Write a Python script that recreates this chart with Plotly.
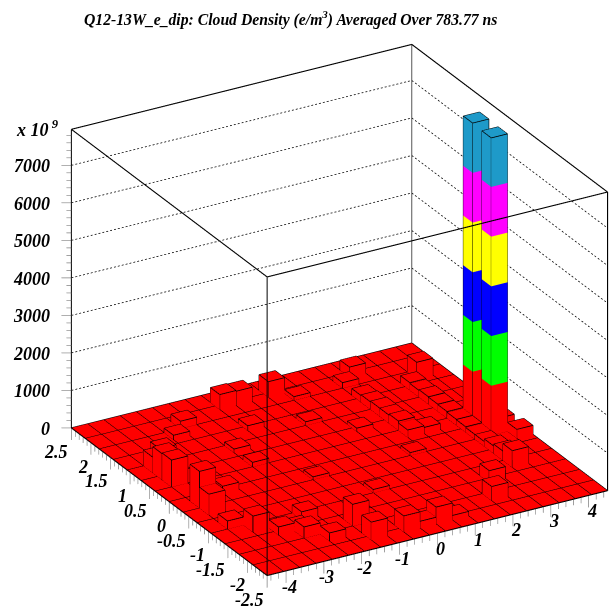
import math
import plotly.graph_objects as go

TITLE = "Q12-13W_e_dip: Cloud Density (e/m<sup>3</sup>) Averaged Over 783.77 ns"
X_MIN, X_MAX, Y_MIN, Y_MAX, Z_MAX = -4.5, 4.5, -2.5, 2.5, 7960
N_BINS = 21
FLOOR_ROWS = 14
BAND = 1325
BAND_COLORS = ["#ff0000", "#00ff00", "#0000ff", "#ffff00", "#ff00ff", "#1e9ac9"]

bar_col = [19, 19, 2, 1, 1, 1, 1, 1, 1, 2, 11, 8, 9, 5, 8, 4, 5, 3, 7, 4, 7, 9, 11, 15, 16, 18, 20, 20, 19, 16,
           15, 15, 15, 16, 18, 18, 4, 5, 12, 10, 3, 6, 6, 11, 13, 10, 8, 14, 12,
           15, 15, 15, 15, 18, 18, 18, 18, 18, 18, 18, 18, 18]
bar_row = [11, 9, 15, 14, 13, 12, 9, 8, 6, 5, 19, 19, 19, 18, 16, 17, 2, 4, 1, 4, 3, 1, 1, 2, 4, 5, 8, 10, 17, 19,
           16, 14, 12, 11, 14, 12, 3, 5, 1, 1, 10, 12, 14, 15, 13, 6, 9, 9, 18,
           18, 15, 13, 11, 16, 15, 13, 11, 10, 9, 8, 7, 6]
bar_val = [7950, 7930, 350, 420, 700, 720, 980, 560, 220, 430, 420, 400, 380, 200, 130, 120, 220, 220, 480, 130, 580,
           430, 450, 380, 320, 450, 240, 160, 450, 270, 180, 220, 250, 160, 200, 180, 300, 220, 120, 180, 180, 120,
           100, 100, 90, 90, 80, 80, 100,
           150, 200, 220, 200, 200, 180, 190, 160, 150, 130, 130, 200, 250]

z_major = [0, 1000, 2000, 3000, 4000, 5000, 6000, 7000]
x_major = [-4, -3, -2, -1, 0, 1, 2, 3, 4]
y_major = [2.5, 2, 1.5, 1, 0.5, 0, -0.5, -1, -1.5, -2, -2.5]
y_labels = ["2.5", "2", "1.5", "1", "0.5", "0", "-0.5", "-1", "-1.5", "-2", "-2.5"]

# view
THETA, PHI = 25.7, 60.1
DIST = 2.0
CENTER = (-0.0884, 0.0549, 0.0073)
ZOOM = 1.277
dir_ = (-math.sin(math.radians(90 - PHI)) * math.cos(math.radians(THETA)),
        -math.cos(math.radians(90 - PHI)) * math.cos(math.radians(THETA)),
        math.sin(math.radians(THETA)))

PAD_X, PAD_Y = 0.9, 0.5
Z_LO, Z_HI = -600, 8560
dx = (X_MAX - X_MIN) / N_BINS
dy = (Y_MAX - Y_MIN) / N_BINS

fig = go.Figure()


def lines(segs, color, width):
    xs, ys, zs = [], [], []
    for a, b in segs:
        xs += [a[0], b[0], None]
        ys += [a[1], b[1], None]
        zs += [a[2], b[2], None]
    fig.add_trace(go.Scatter3d(x=xs, y=ys, z=zs, mode="lines", hoverinfo="skip", showlegend=False,
                               line=dict(color=color, width=width)))


def dotted(a, b, count):
    out = []
    for n in range(count):
        t0, t1 = n / count, (n + 0.5) / count
        out.append((tuple(a[i] + (b[i] - a[i]) * t0 for i in range(3)),
                    tuple(a[i] + (b[i] - a[i]) * t1 for i in range(3))))
    return out


def box_mesh(boxes, color):
    vx, vy, vz, i, j, k = [], [], [], [], [], []
    faces = [(0, 1, 2), (0, 2, 3), (4, 5, 6), (4, 6, 7), (0, 1, 5), (0, 5, 4),
             (1, 2, 6), (1, 6, 5), (2, 3, 7), (2, 7, 6), (3, 0, 4), (3, 4, 7)]
    for (x0, x1, y0, y1, z0, z1) in boxes:
        n = len(vx)
        vx += [x0, x1, x1, x0, x0, x1, x1, x0]
        vy += [y0, y0, y1, y1, y0, y0, y1, y1]
        vz += [z0, z0, z0, z0, z1, z1, z1, z1]
        for f in faces:
            i.append(n + f[0]); j.append(n + f[1]); k.append(n + f[2])
    fig.add_trace(go.Mesh3d(x=vx, y=vy, z=vz, i=i, j=j, k=k, color=color, flatshading=True, hoverinfo="skip",
                            lighting=dict(ambient=1, diffuse=0, specular=0, roughness=1, fresnel=0),
                            showscale=False))


# bars, split into the colour bands
bars = []
for c, r, v in zip(bar_col, bar_row, bar_val):
    bars.append((X_MIN + c * dx, X_MIN + (c + 1) * dx, Y_MIN + r * dy, Y_MIN + (r + 1) * dy, v))
for n, col in enumerate(BAND_COLORS):
    boxes = []
    for b in bars:
        lo, hi = n * BAND, (n + 1) * BAND
        if b[4] > lo:
            boxes.append((b[0], b[1], b[2], b[3], lo, min(hi, b[4])))
    box_mesh(boxes, col)
box_mesh([(X_MIN, X_MAX, Y_MIN, Y_MAX, -1, 0)], "#ff0000")

# floor grid
EPS = 2
seg = []
for c in range(N_BINS + 1):
    x = X_MIN + c * dx
    seg.append(((x, Y_MIN, EPS), (x, Y_MAX, EPS)))
for r in range(FLOOR_ROWS + 1):
    y = Y_MIN + r * (Y_MAX - Y_MIN) / FLOOR_ROWS
    seg.append(((X_MIN, y, EPS), (X_MAX, y, EPS)))
# bar outlines
for (x0, x1, y0, y1, v) in bars:
    for (xa, ya, xb, yb) in [(x0, y0, x1, y0), (x1, y0, x1, y1), (x1, y1, x0, y1), (x0, y1, x0, y0)]:
        seg.append(((xa, ya, v + EPS), (xb, yb, v + EPS)))
        seg.append(((xa, ya, EPS), (xa, ya, v + EPS)))
lines(seg, "#000000", 1.6)

# walls grid
seg = []
for z in z_major[1:]:
    seg += dotted((X_MIN, Y_MAX, z), (X_MAX, Y_MAX, z), 88)
    seg += dotted((X_MAX, Y_MAX, z), (X_MAX, Y_MIN, z), 60)
lines(seg, "#000000", 1.5)

# box
P = lambda x, y, z: (x, y, z)
lines([(P(X_MIN, Y_MAX, Z_MAX), P(X_MAX, Y_MAX, Z_MAX)), (P(X_MAX, Y_MAX, Z_MAX), P(X_MAX, Y_MIN, Z_MAX)),
       (P(X_MAX, Y_MIN, Z_MAX), P(X_MIN, Y_MIN, Z_MAX)), (P(X_MIN, Y_MIN, Z_MAX), P(X_MIN, Y_MAX, Z_MAX)),
       (P(X_MIN, Y_MIN, 0), P(X_MAX, Y_MIN, 0)), (P(X_MIN, Y_MIN, 0), P(X_MIN, Y_MAX, 0)),
       (P(X_MAX, Y_MIN, 0), P(X_MAX, Y_MAX, 0)), (P(X_MIN, Y_MAX, 0), P(X_MAX, Y_MAX, 0)),
       (P(X_MIN, Y_MIN, 0), P(X_MIN, Y_MIN, Z_MAX)), (P(X_MIN, Y_MAX, 0), P(X_MIN, Y_MAX, Z_MAX)),
       (P(X_MAX, Y_MIN, 0), P(X_MAX, Y_MIN, Z_MAX))], "#000000", 2.2)
lines([(P(X_MAX, Y_MAX, 0), P(X_MAX, Y_MAX, Z_MAX))], "#555555", 2)

# ticks
PX = Z_MAX / 298.0
seg = []
for n in range(0, 40):
    z = n * 200
    ln = 10 if n % 5 == 0 else 5
    seg.append(((X_MIN, Y_MAX, z), (X_MIN - 0.0198 * ln, Y_MAX + 0.00637 * ln, z)))
for n in range(-22, 23):
    x = n * 0.2
    ln = 12 if n % 5 == 0 else 6
    seg.append(((x, Y_MIN, 0), (x, Y_MIN, -ln * PX)))
for n in range(-25, 26):
    y = n * 0.1
    ln = 12 if n % 5 == 0 else 6
    seg.append(((X_MIN, y, 0), (X_MIN, y, -ln * PX)))
lines(seg, "#808080", 1.3)

LABEL = dict(family="Liberation Serif", size=18, color="#000000", weight="bold", style="italic")
TITLE_FONT = dict(LABEL, size=15.7)
ann = []
for z in z_major:
    ann.append(dict(x=X_MIN, y=Y_MAX, z=z, text=f"{z}", showarrow=False, xanchor="right", yanchor="middle",
                    xshift=-19, yshift=-1, font=LABEL))
for x in x_major:
    ann.append(dict(x=x, y=Y_MIN, z=0, text=f"{x}", showarrow=False, xanchor="center", yanchor="middle",
                    xshift=3, yshift=-16, font=LABEL))
for y, t in zip(y_major, y_labels):
    ann.append(dict(x=X_MIN, y=y, z=0, text=t, showarrow=False, xanchor="right", yanchor="middle",
                    xshift=-1, yshift=-24, font=LABEL))

eye = [CENTER[i] + dir_[i] * DIST for i in range(3)]
fig.update_layout(
    width=615, height=615, margin=dict(l=0, r=0, t=0, b=0), paper_bgcolor="white", showlegend=False,
    scene=dict(
        domain=dict(x=[0, 1], y=[0, 1]),
        xaxis=dict(visible=False, range=[X_MIN - PAD_X, X_MAX + PAD_X]),
        yaxis=dict(visible=False, range=[Y_MIN - PAD_Y, Y_MAX + PAD_Y]),
        zaxis=dict(visible=False, range=[Z_LO, Z_HI]),
        aspectmode="manual",
        aspectratio=dict(x=1.2 * ZOOM, y=1.2 * ZOOM, z=0.844 * ZOOM * (Z_HI - Z_LO) / Z_MAX),
        camera=dict(projection=dict(type="orthographic"), up=dict(x=0, y=0, z=1),
                    center=dict(x=CENTER[0], y=CENTER[1], z=CENTER[2]),
                    eye=dict(x=eye[0], y=eye[1], z=eye[2])),
        annotations=ann,
    ),
    annotations=[
        dict(xref="paper", yref="paper", x=82 / 615, y=1 - 19 / 615, text=TITLE, showarrow=False, xanchor="left",
             yanchor="middle", font=TITLE_FONT),
        dict(xref="paper", yref="paper", x=61 / 615, y=1 - 129 / 615, text="x 10<sup> 9</sup>", showarrow=False,
             xanchor="right", yanchor="middle", font=LABEL),
    ],
)
fig.write_html("out.html", config=dict(displayModeBar=False),
               post_script="document.body.style.margin='0';")
